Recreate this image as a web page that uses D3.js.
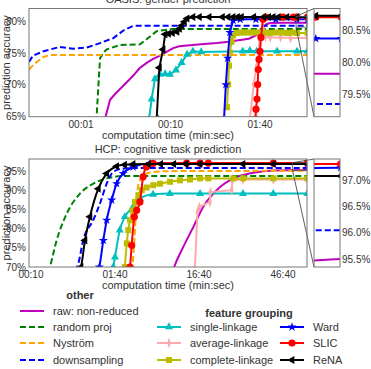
<!DOCTYPE html>
<html>
<head>
<meta charset="utf-8">
<script src="https://cdn.jsdelivr.net/npm/d3@7"></script>
<style>
body { margin: 0; background: #fff; }
svg text { font-family: "Liberation Sans", Arial, sans-serif; font-size: 11px; fill: #333; }
svg text.tick { font-size: 10px; }
</style>
</head>
<body>
<script>
// OASIS: gender prediction -- [seconds, accuracy %]
var oasisRaw = [[1.85,64.5],[2.11,67.6],[2.4,68.5],[2.73,69.3],[3.2,70.3],[3.81,71.4],[4.5,72.6],[5.46,73.5],[6.4,74.1],[7.63,74.6],[9,75.2],[10.7,75.8],[12.5,76.1],[15.3,76.2],[22,76.4],[33,76.6],[45,76.8],[55,77.0],[75,77.3],[92,77.9],[100,78.4],[108,79.1],[118,79.6],[129,79.8],[180,79.85],[259,79.82],[340,79.82]];
var oasisRandProj = [[1.48,64],[1.55,69],[1.63,74.2],[1.8,75.2],[1.94,75.6],[2.73,76.3],[4.56,76.4],[5.4,77.2],[7.0,78.5],[10.6,78.85],[340,78.85]];
var oasisNystrom = [[0.262,72.4],[0.30,73.3],[0.38,74.4],[0.45,74.7],[340,74.7]];
var oasisDownsamp = [[0.262,73.6],[0.29,74.6],[0.38,75.3],[0.58,76.0],[0.82,75.7],[1.16,75.9],[1.63,76.6],[2.3,77.4],[2.97,78.6],[3.84,79.35],[340,79.34]];
var oasisSingle = [[5.75,64.5],[6.15,67.7],[6.7,70.9],[7.6,71.6],[8.7,71.7],[9.85,71.6],[11.5,72.3],[13.3,73.5],[15.3,74.8],[17.8,75.3],[22,75.2],[64,75.3],[77,75.4],[92,75.3],[155,75.3],[259,75.3],[340,75.3]];
var oasisAverage = [[77,64.5],[85,70],[92,73],[100,77.8],[108,78.8],[115,77.6],[130,77.5],[170,77.5],[220,77.4],[340,77.4]];
var oasisComplete = [[42.8,66.4],[44,70],[45,73],[46,75.1],[48,76.8],[50,77.8],[55,78.2],[60,78.3],[66,78.3],[72,78.3],[80,78.3],[90,78.3],[100,78.3],[115,78.3],[130,78.2],[150,78.3],[175,78.3],[200,78.2],[230,78.3],[260,78.2],[340,78.2]];
var oasisWard = [[39.6,64.5],[41.5,70],[43.5,74.2],[46,78.3],[50,80.2],[60,80.38],[90,80.38],[150,80.38],[258,80.38],[340,80.38]];
var oasisSlic = [[89,64.5],[90.2,66.1],[92.5,67.7],[94.1,70],[95.6,72.4],[97.5,74],[100,75.3],[102.5,77.5],[108,80.4],[115,80.72],[181,80.72],[236,80.72],[258,80.72],[340,80.72]];
var oasisRena = [[7.0,64.5],[7.5,72.7],[8.25,75.6],[8.7,78.0],[9.5,78.1],[10.5,78.2],[11.8,78.4],[12.6,78.9],[13.4,79.4],[14.3,80.0],[15.3,80.5],[17.8,80.74],[21,80.74],[27,80.74],[38,80.74],[44,80.74],[50,80.74],[56,80.74],[62,80.74],[85,80.74],[110,80.74],[125,80.74],[140,80.74],[160,80.74],[200,80.74],[258,80.74],[340,80.74]];

// HCP: cognitive task prediction
var hcpRaw = [[480,68.5],[506,70],[650,75.3],[855,80.5],[1120,85.8],[1620,90.2],[2560,93.3],[4430,94.8],[7700,95.4],[19500,95.5]];
var hcpRandProj = [[16,68.5],[16.8,70],[20.2,77],[26.6,84],[38.3,89.3],[55,91.9],[79.6,93.3],[138,93.95],[19500,93.95]];
var hcpNystrom = [[160,69],[173,79.7],[181,88.4],[198,92.8],[237,94.6],[410,95.2],[19500,95.3]];
var hcpDownsamp = [[33.5,69],[36.6,70.9],[41.8,77],[55,82.3],[66.3,86.7],[79.6,91.9],[95.4,95],[125,95.9],[198,96.05],[19500,96.05]];
var hcpSingle = [[95.4,70],[100,72.6],[114,79.7],[131,83.2],[164,85.8],[198,88.0],[284,89.1],[450,89.3],[1030,89.3],[3340,89.3],[7650,89.3],[19500,89.3]];
var hcpAverage = [[890,69],[960,84.5],[1010,85.8],[1350,87.1],[1370,89.7],[2450,90.2],[2500,92.8],[3340,93.0],[7680,93.0],[19500,93.0]];
var hcpComplete = [[131,70],[138,76.2],[144,79.7],[151,82.3],[162,84.9],[173,87.1],[190,88.9],[208,90.2],[238,90.9],[286,91.5],[343,91.9],[452,92.4],[594,92.8],[782,93.0],[1028,93.3],[1290,93.3],[2560,93.3],[3370,93.3],[7680,93.3],[19500,93.3]];
var hcpWard = [[62,68.5],[65,70],[72.6,77],[79.6,82.3],[91.3,87.6],[104.6,91.9],[125,94.6],[164,96.3],[261,97.2],[19500,97.25]];
var hcpSlic = [[148,68.5],[151,70],[158,75.7],[170,83.2],[181,84.9],[198,87.1],[216,93.7],[237,96.3],[284,97.25],[713,97.32],[1028,97.32],[1290,97.32],[7680,97.32],[19500,97.32]];
var hcpRena = [[37,68.5],[39.4,70],[43.9,77],[50.3,83.2],[63.3,90.6],[79.6,94.6],[104.6,96.5],[130,96.9],[164,97.05],[250,97.09],[350,97.09],[500,97.09],[700,97.09],[1028,97.09],[3340,97.09],[7680,97.09],[19500,97.09]];

// ticks
var oasisXTicks = [1, 10, 100];
var oasisYTicks = [65, 70, 75, 80];
var oasisInsetTicks = [79.5, 80.0, 80.5];
var hcpXTicks = [10, 100, 1000, 10000];
var hcpYTicks = [70, 75, 80, 85, 90, 95];
var hcpInsetTicks = [95.5, 96.0, 96.5, 97.0];

// legend
var otherNames = ["raw: non-reduced", "random proj", "Nyström", "downsampling"];
var groupNames = ["single-linkage", "average-linkage", "complete-linkage", "Ward", "SLIC", "ReNA"];

var styles = [
	{color:"#bf00bf", dash:null, mark:null},
	{color:"#008000", dash:"6,3", mark:null},
	{color:"#ffa500", dash:"6,3", mark:null},
	{color:"#0000ff", dash:"6,3", mark:null},
	{color:"#00bfbf", dash:null, mark:"tri"},
	{color:"#ffaaaa", dash:null, mark:"thin"},
	{color:"#bcbc00", dash:null, mark:"square"},
	{color:"#0000ff", dash:null, mark:"star"},
	{color:"#ff0000", dash:null, mark:"circle"},
	{color:"#000000", dash:null, mark:"left"}
];

var svg = d3.select("body").append("svg")
	.attr("width", 371)
	.attr("height", 369);

function mmss(t) {
	var m = Math.floor(t / 60) % 60, s = Math.round(t % 60);
	return String(m).padStart(2, "0") + ":" + String(s).padStart(2, "0");
}

function drawMark(g, kind, color, x, y) {
	if (kind == "circle") {
		g.append("circle").attr("cx", x).attr("cy", y).attr("r", 3.6).attr("fill", color);
		return;
	}
	var sym = d3.symbolTriangle, size = 28, tf = "";
	if (kind == "left") tf = " rotate(-90)";
	if (kind == "square") { sym = d3.symbolSquare; size = 36; }
	if (kind == "star") { sym = d3.symbolStar; size = 26; }
	if (kind == "thin") { sym = d3.symbolDiamond; size = 34; tf = " scale(0.6,1)"; }
	g.append("path")
		.attr("d", d3.symbol(sym, size)())
		.attr("transform", "translate(" + x + "," + y + ")" + tf)
		.attr("fill", color);
}

function drawSeries(g, series, x, y, curve) {
	series.forEach(function(pts, i) {
		var st = styles[i];
		var line = d3.line()
			.x(function(d) { return x(d[0]); })
			.y(function(d) { return y(d[1]); })
			.curve(i == 5 ? d3.curveLinear : curve);
		g.append("path")
			.attr("d", line(pts))
			.attr("fill", "none")
			.attr("stroke", st.color)
			.attr("stroke-width", 2)
			.attr("stroke-dasharray", st.dash);
		if (st.mark) {
			pts.forEach(function(d) {
				drawMark(g, st.mark, st.color, x(d[0]), y(d[1]));
			});
		}
	});
}

function panel(p) {
	var L = 29, R = 307, IL = 314, IR = 340;
	var x = d3.scaleLog().domain(p.xdom).range([L, R]);
	var y = d3.scaleLinear().domain(p.ydom).range([p.bot, p.top]);
	var xi = d3.scaleLog().domain(p.idom).range([IL, IR]);
	var yi = d3.scaleLinear().domain(p.iydom).range([p.bot, p.top]);

	var defs = svg.append("defs");
	defs.append("clipPath").attr("id", "m" + p.id).append("rect")
		.attr("x", L).attr("y", p.top).attr("width", R - L).attr("height", p.bot - p.top);
	defs.append("clipPath").attr("id", "i" + p.id).append("rect")
		.attr("x", IL).attr("y", p.top).attr("width", IR - IL).attr("height", p.bot - p.top);

	drawSeries(svg.append("g").attr("clip-path", "url(#m" + p.id + ")"), p.series, x, y, p.curve);
	drawSeries(svg.append("g").attr("clip-path", "url(#i" + p.id + ")"), p.series, xi, yi, p.curve);

	// zoom marker + connectors
	var rx = x(p.idom[0]), ry0 = y(p.iydom[1]), ry1 = y(p.iydom[0]);
	svg.append("rect").attr("x", rx).attr("y", ry0).attr("width", R - rx).attr("height", ry1 - ry0)
		.attr("fill", "none").attr("stroke", "#555").attr("stroke-width", 0.8);
	svg.append("line").attr("x1", rx).attr("y1", ry0).attr("x2", IL).attr("y2", p.top)
		.attr("stroke", "#333").attr("stroke-width", 0.8);
	svg.append("line").attr("x1", rx).attr("y1", ry1).attr("x2", IL).attr("y2", p.bot)
		.attr("stroke", "#333").attr("stroke-width", 0.8);

	// frames
	[[L, R], [IL, IR]].forEach(function(b) {
		svg.append("rect").attr("x", b[0]).attr("y", p.top).attr("width", b[1] - b[0]).attr("height", p.bot - p.top)
			.attr("fill", "none").attr("stroke", "#777").attr("stroke-width", 1);
	});

	// tick labels
	p.yticks.forEach(function(v) {
		svg.append("text").attr("class", "tick").attr("x", 26).attr("y", y(v)).attr("dy", "0.35em")
			.attr("text-anchor", "end").text(v + "%");
	});
	p.xticks.forEach(function(v) {
		svg.append("text").attr("class", "tick").attr("x", x(v)).attr("y", p.bot + 11)
			.attr("text-anchor", "middle").text(mmss(v));
	});
	p.iticks.forEach(function(v) {
		svg.append("text").attr("class", "tick").attr("x", 342).attr("y", yi(v)).attr("dy", "0.35em")
			.text(v.toFixed(1) + "%");
	});

	svg.append("text").attr("x", 168).attr("y", p.top - 6)
		.attr("text-anchor", "middle").text(p.title);
	svg.append("text").attr("x", 168).attr("y", p.bot + 22)
		.attr("text-anchor", "middle").text("computation time (min:sec)");
	svg.append("text")
		.attr("transform", "translate(10," + ((p.top + p.bot) / 2) + ") rotate(-90)")
		.attr("text-anchor", "middle").text("prediction accuracy");
}

panel({
	id: "oasis", title: "OASIS: gender prediction",
	top: 8.5, bot: 116.7,
	xdom: [0.262, 335], ydom: [64.9, 82.1],
	idom: [253, 335], iydom: [79.14, 80.857],
	xticks: oasisXTicks, yticks: oasisYTicks, iticks: oasisInsetTicks,
	curve: d3.curveLinear,
	series: [oasisRaw, oasisRandProj, oasisNystrom, oasisDownsamp, oasisSingle,
		oasisAverage, oasisComplete, oasisWard, oasisSlic, oasisRena]
});

panel({
	id: "hcp", title: "HCP: cognitive task prediction",
	top: 159, bot: 267,
	xdom: [9.47, 19300], ydom: [70, 98.4],
	idom: [13000, 19300], iydom: [95.347, 97.416],
	xticks: hcpXTicks, yticks: hcpYTicks, iticks: hcpInsetTicks,
	curve: d3.curveMonotoneX,
	series: [hcpRaw, hcpRandProj, hcpNystrom, hcpDownsamp, hcpSingle,
		hcpAverage, hcpComplete, hcpWard, hcpSlic, hcpRena]
});

// legend
var leg = svg.append("g");
leg.append("text").attr("x", 80).attr("y", 299).attr("text-anchor", "middle")
	.attr("font-weight", "bold").text("other");
leg.append("text").attr("x", 249).attr("y", 317).attr("text-anchor", "middle")
	.attr("font-weight", "bold").text("feature grouping");

function legendItem(i, name, x0, yy) {
	var st = styles[i];
	leg.append("line").attr("x1", x0).attr("x2", x0 + 24).attr("y1", yy).attr("y2", yy)
		.attr("stroke", st.color).attr("stroke-width", 2).attr("stroke-dasharray", st.dash);
	if (st.mark) drawMark(leg, st.mark, st.color, x0 + 12, yy);
	leg.append("text").attr("x", x0 + 33).attr("y", yy).attr("dy", "0.35em").text(name);
}
var rows = [311, 327, 343, 360];
otherNames.forEach(function(n, i) { legendItem(i, n, 20, rows[i]); });
groupNames.forEach(function(n, i) {
	legendItem(4 + i, n, i < 3 ? 157 : 280, rows[1 + (i % 3)]);
});
</script>
</body>
</html>
